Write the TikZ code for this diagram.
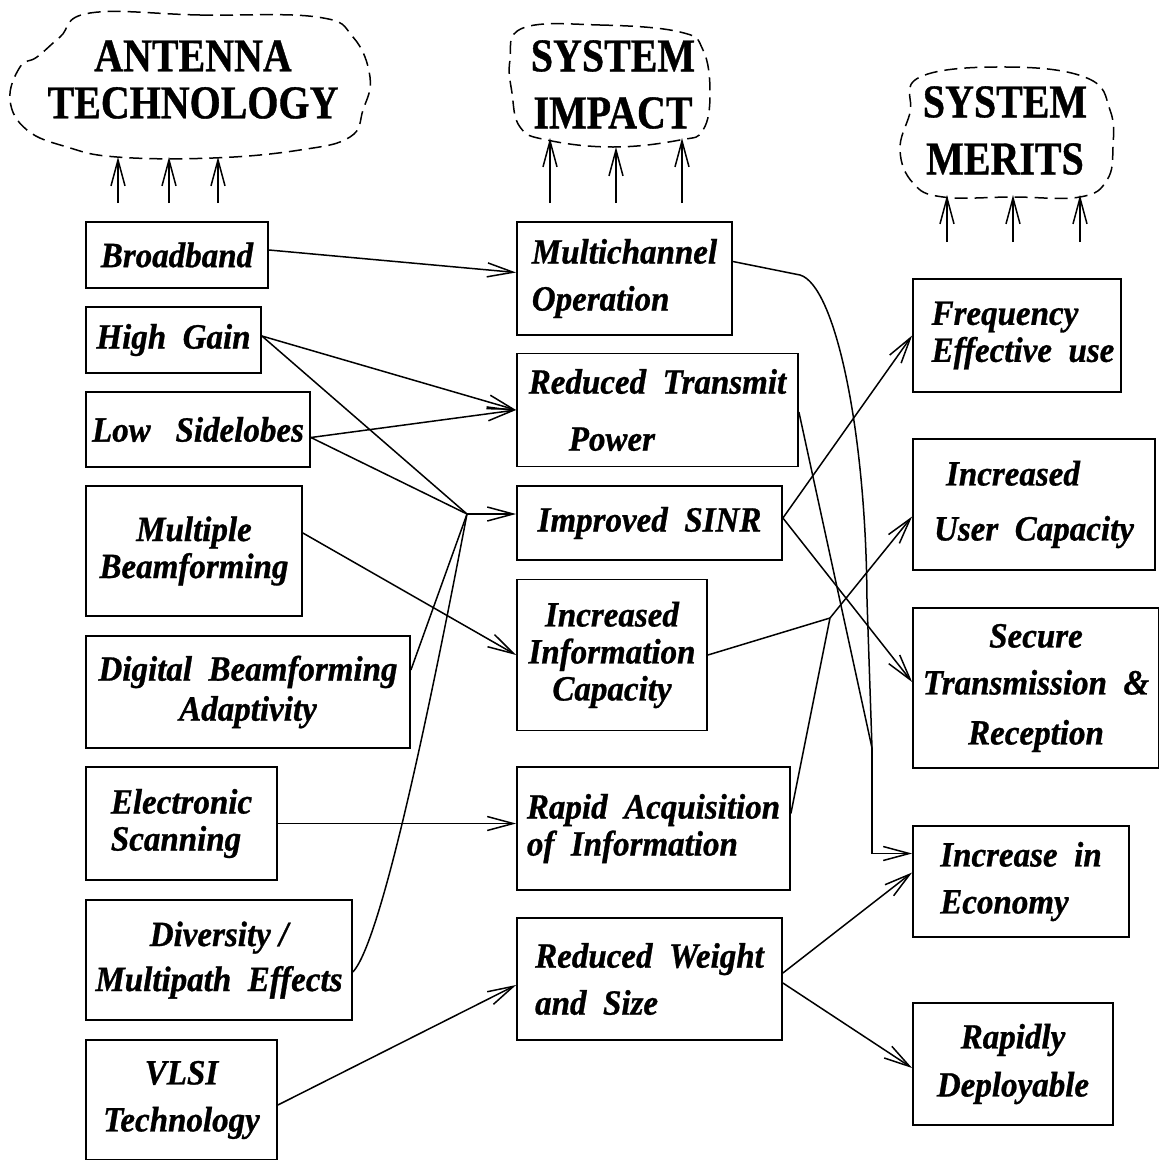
\documentclass[tikz,border=0pt]{standalone}
\usepackage{fontspec}
\newfontfamily\boxfont{Liberation Serif}[FakeStretch=0.93, BoldItalicFeatures={FakeBold=0.8}]
\newfontfamily\cloudfont{Liberation Serif}[FakeStretch=0.85, BoldFeatures={FakeBold=0.8}]
\usetikzlibrary{calc,arrows.meta}

\begin{document}
\begin{tikzpicture}[x=1pt, y=-1pt,
      box/.style 2 args={draw, line width=1.8pt, inner sep=0pt,
                minimum width=#1pt, minimum height=#2pt, align=center,
                font=\boxfont\fontsize{35.5}{37}\selectfont\bfseries\itshape},
      lbox/.style 2 args={box={#1}{#2}, align=left},
      title/.style={align=center,
                font=\cloudfont\fontsize{47}{47}\selectfont\bfseries},
      cloud/.style={line width=1.5pt, dash pattern=on 13pt off 7pt},
      link/.style={line width=1.5pt},
      arr/.style={link, -{Straight Barb[length=26pt,width=14pt]}}]
    \useasboundingbox (0,0) rectangle (1159,1160);

    \draw[cloud] plot[smooth cycle, tension=0.7] coordinates {(90,13) (200,15) (317,17) (353,37) (370,77) (363,110) (350,137) (300,150) (213,158) (117,157) (67,147) (27,130) (10,100) (20,67) (37,57) (60,37)};
    \draw[cloud] plot[smooth cycle, tension=0.7] coordinates {(523,28) (600,25) (680,32) (703,50) (710,93) (703,130) (680,140) (613,147) (547,140) (520,127) (512,93) (510,60)};
    \draw[cloud] plot[smooth cycle, tension=0.7] coordinates {(920,77) (1007,67) (1087,78) (1110,110) (1113,147) (1107,180) (1080,197) (1013,197) (943,197) (913,183) (900,150) (910,113)};
    \node[title] (antT) at (193,79.5) {ANTENNA\\TECHNOLOGY};
    \node[title] (impT) at (613,84.5) {SYSTEM\\[10pt]IMPACT};
    \node[title] (merT) at (1005,130.5) {SYSTEM\\[10pt]MERITS};
    \foreach \x in {118,169,218} \draw[arr] (\x,203) -- (\x,157);
    \foreach \x/\y in {550/138,616/147,682/138} \draw[arr] (\x,203) -- (\x,\y);
    \foreach \x in {947,1013,1080} \draw[arr] (\x,242) -- (\x,195);

    \node[box={182}{66}]   (bb) at (177,255)     {Broadband};
    \node[box={175}{66}]   (hg) at (173.5,340)   {High~~Gain};
    \node[box={224}{75}]   (ls) at (198,429.5)   {Low~~~Sidelobes};
    \node[box={216}{130}]  (mb) at (194,551)     {Multiple\\Beamforming};
    \node[box={324}{112}]  (db) at (248,692)     {Digital~~Beamforming\\[3pt]Adaptivity};
    \node[lbox={191}{113}] (es) at (181.5,823.5) {Electronic\\Scanning};
    \node[box={266}{120}]  (dm) at (219,960)     {Diversity /\\[8pt]Multipath~~Effects};
    \node[box={191}{120}]  (vl) at (181.5,1100)  {VLSI\\[10pt]Technology};

    \node[lbox={215}{113}] (mc) at (624.5,278.5) {Multichannel\\[10pt]Operation};
    \node[lbox={281}{113}] (rt) at (657.5,410)   {Reduced~~Transmit\\[20pt]\hspace*{40pt}Power};
    \node[box={265}{74}]   (is) at (649.5,523)   {Improved~~SINR};
    \node[box={190}{151}]  (ic) at (612,655)     {Increased\\Information\\Capacity};
    \node[lbox={273}{123}] (ra) at (653.5,828.5) {Rapid~~Acquisition\\of~~Information};
    \node[lbox={265}{122}] (rw) at (649.5,979)   {Reduced~~Weight\\[10pt]and~~Size};

    \node[lbox={208}{113}] (fe) at (1017,335.5)  {\hspace*{12pt}Frequency\\\hspace*{12pt}Effective~~use};
    \node[lbox={242}{131}] (uc) at (1034,504.5)  {\hspace*{12pt}Increased\\[18pt]User~~Capacity};
    \node[box={246}{160}]  (st) at (1036,688)    {Secure\\[10pt]Transmission~~\&\\[13pt]Reception};
    \node[lbox={216}{111}] (ec) at (1021,881.5)  {Increase~~in\\[10pt]Economy};
    \node[box={200}{122}]  (rd) at (1013,1064)   {Rapidly\\[11pt]Deployable};

    \coordinate (J) at (467,514);
    \coordinate (K) at (830,618);
    \coordinate (M) at (872,748);

    \draw[arr] ($(bb.east)+(0,-5)$) -- ($(mc.west)+(0,-6)$);
    \draw[arr] ($(hg.east)+(0,-4)$) -- (rt.west);
    \draw[arr] ($(ls.east)+(0,8)$) -- (rt.west);
    \draw[link] ($(hg.east)+(0,-4)$) -- (J);
    \draw[link] ($(ls.east)+(0,8)$) -- (J);
    \draw[link] ($(db.east)+(0,-22)$) -- (J);
    \draw[link] ($(dm.east)+(0,12)$) .. controls (378,945) and (420,760) .. (J);
    \draw[arr] (J) -- (J -| is.west);
    \draw[arr] ($(mb.east)+(0,-18)$) -- (ic.west);
    \draw[arr] (es.east) -- (es.east -| ra.west);
    \draw[arr] ($(vl.east)+(0,5)$) -- ($(rw.west)+(0,6)$);

    \draw[link] ($(mc.east)+(0,-17)$) -- (800,275) .. controls (835,285) and (866,430) .. (867,600) -- (M);
    \draw[link] ($(rt.east)+(0,2)$) -- (M);
    \draw[arr] (M) |- ($(ec.west)+(0,-28)$);
    \draw[arr] ($(is.east)+(0,-5)$) -- (fe.west);
    \draw[arr] ($(is.east)+(0,-5)$) -- ($(st.west)+(0,-6)$);
    \draw[link] (ic.east) -- (K);
    \draw[link] ($(ra.east)+(0,-15)$) -- (K);
    \draw[arr] (K) -- ($(uc.west)+(0,12)$);
    \draw[arr] ($(rw.east)+(0,-6)$) -- ($(ec.west)+(0,-9)$);
    \draw[arr] ($(rw.east)+(0,4)$) -- ($(rd.west)+(0,4)$);
  \end{tikzpicture}
\end{document}
